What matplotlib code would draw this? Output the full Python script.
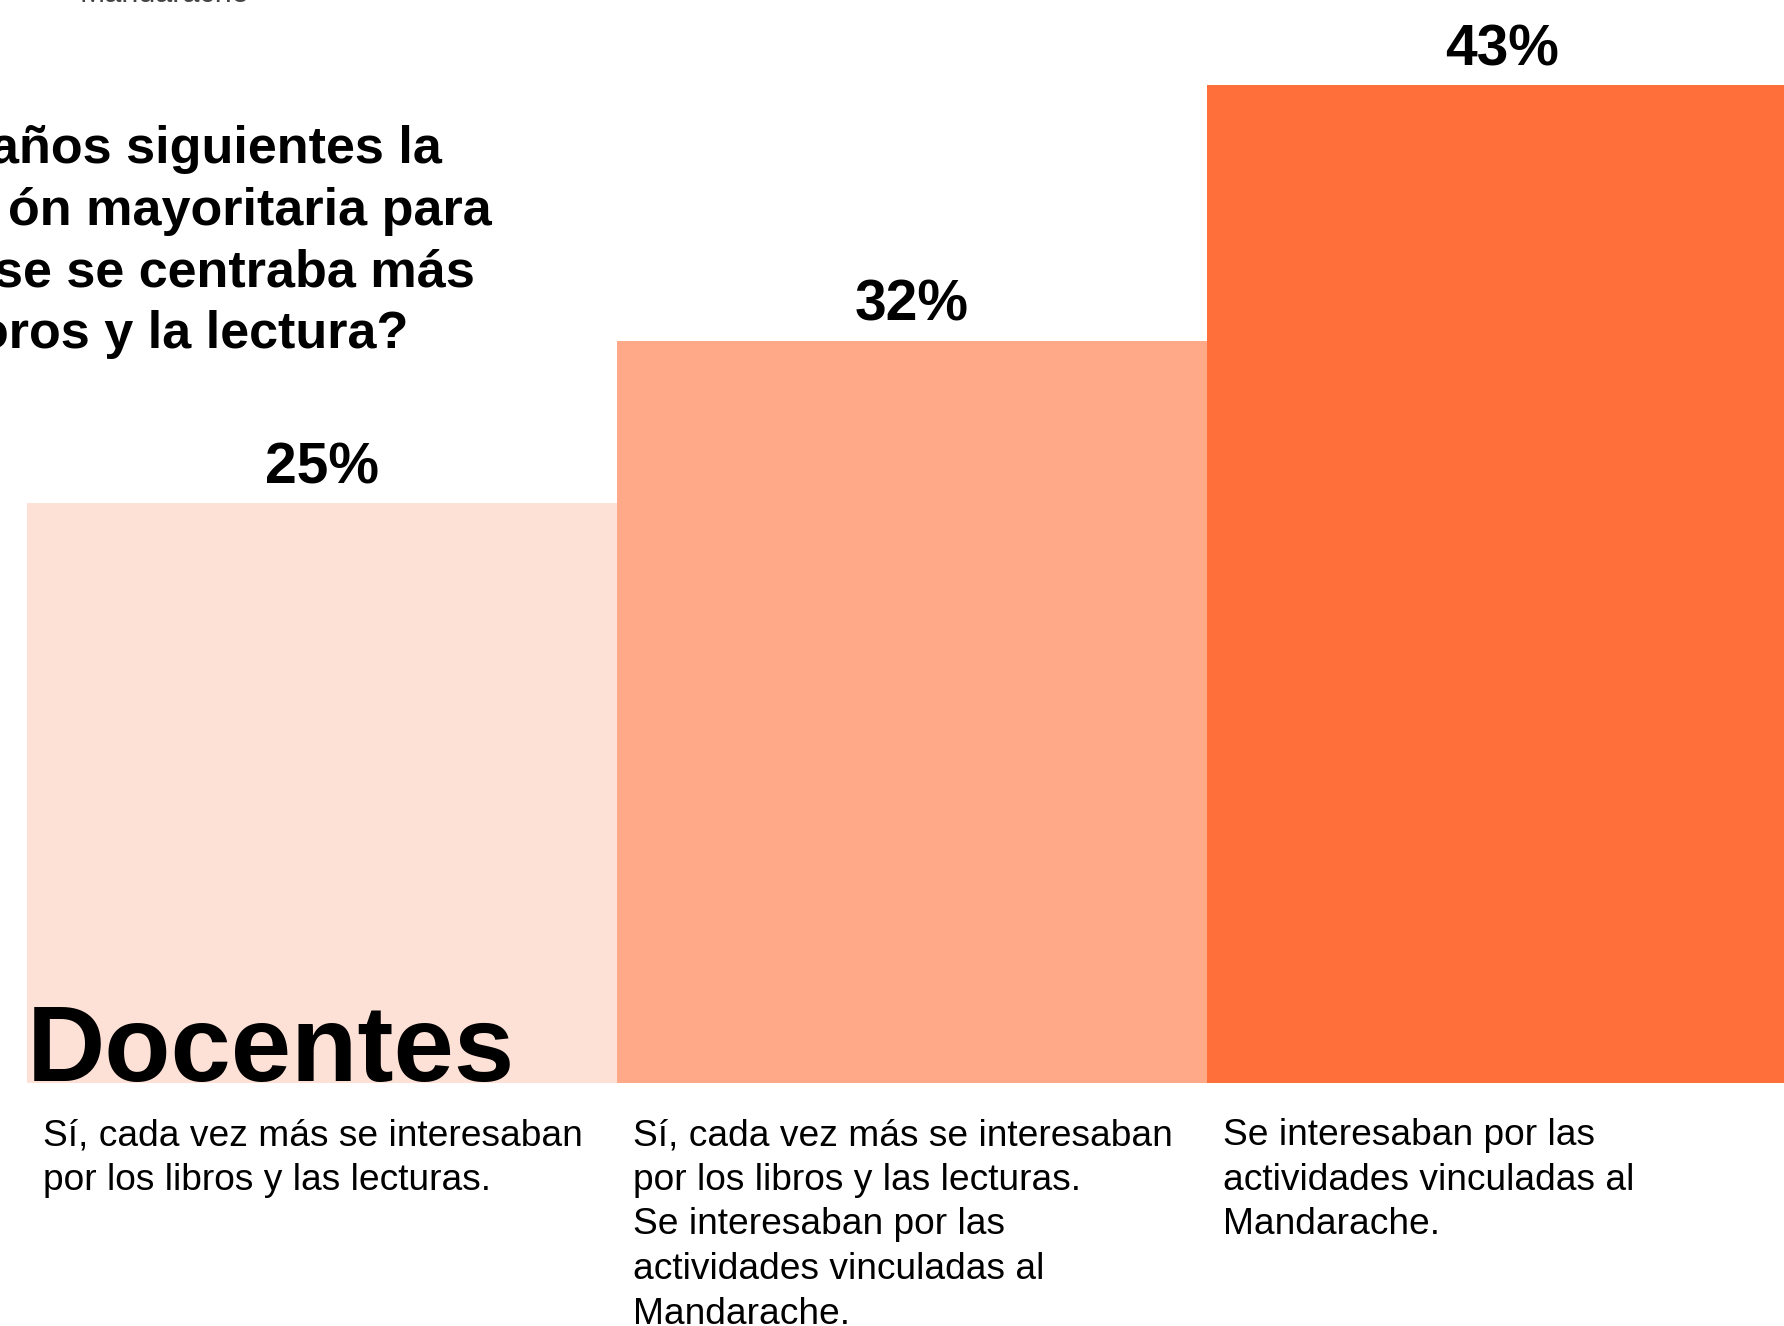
import matplotlib.pyplot as plt

plt.rcParams['font.family'] = ['Liberation Sans', 'DejaVu Sans']

# data
values = [25, 32, 43]
value_labels = ["25%", "32%", "43%"]
categories = [
    "Sí, cada vez más se interesaban\npor los libros y las lecturas.",
    "Sí, cada vez más se interesaban\npor los libros y las lecturas.\nSe interesaban por las\nactividades vinculadas al\nMandarache.",
    "Se interesaban por las\nactividades vinculadas al\nMandarache.",
]
colors = ["#FDE1D7", "#FFA988", "#FF6F3A"]
title_lines = ["años siguientes la", "ón mayoritaria para",
               "se se centraba más", "oros y la lectura?"]
group_label = "Docentes"

W, H = 1784, 1326
fig = plt.figure(figsize=(W / 100, H / 100), dpi=100)
ax = fig.add_axes([0, 0, 1, 1])

# scale: 590 px per bar, 23.2 px per percent, baseline at 1083 px from top
px_x, px_y, base = 590.0, 23.2, 1083.0
ax.set_xlim(-0.5 - 27 / px_x, -0.5 + (W - 27) / px_x)
ax.set_ylim(-(H - base) / px_y, base / px_y)
ax.axis('off')

x = range(len(values))
ax.bar(x, values, width=1.0, color=colors)

for i, v in enumerate(values):
    ax.text(i, v + 20 / px_y, value_labels[i], ha='center', va='baseline',
            fontsize=41, fontweight='bold', color='black')

# category texts under the bars, one line at a time
for i, cat in enumerate(categories):
    for j, line in enumerate(cat.split('\n')):
        ax.text(i - 0.5 + 16 / px_x, -(1145 - base + j * 44.7) / px_y, line,
                ha='left', va='baseline', fontsize=26.7, color='black')

ax.text(-0.5, 2 / px_y, group_label, ha='left', va='baseline',
        fontsize=78, fontweight='bold', color='black')

# question, cut off by the left edge
right_ends = [442, 492, 475, 408]
for j, line in enumerate(title_lines):
    fig.text(right_ends[j] / W, 1 - (163 + j * 61.7) / H, line,
             ha='right', va='baseline', fontsize=37.5, fontweight='bold',
             color='black')

# top line, almost entirely outside the picture
fig.text(80 / W, 1 - 1.5 / H, "Mandarache", ha='left', va='baseline',
         fontsize=22, color='#444444')

fig.savefig('out.png', dpi=100)
